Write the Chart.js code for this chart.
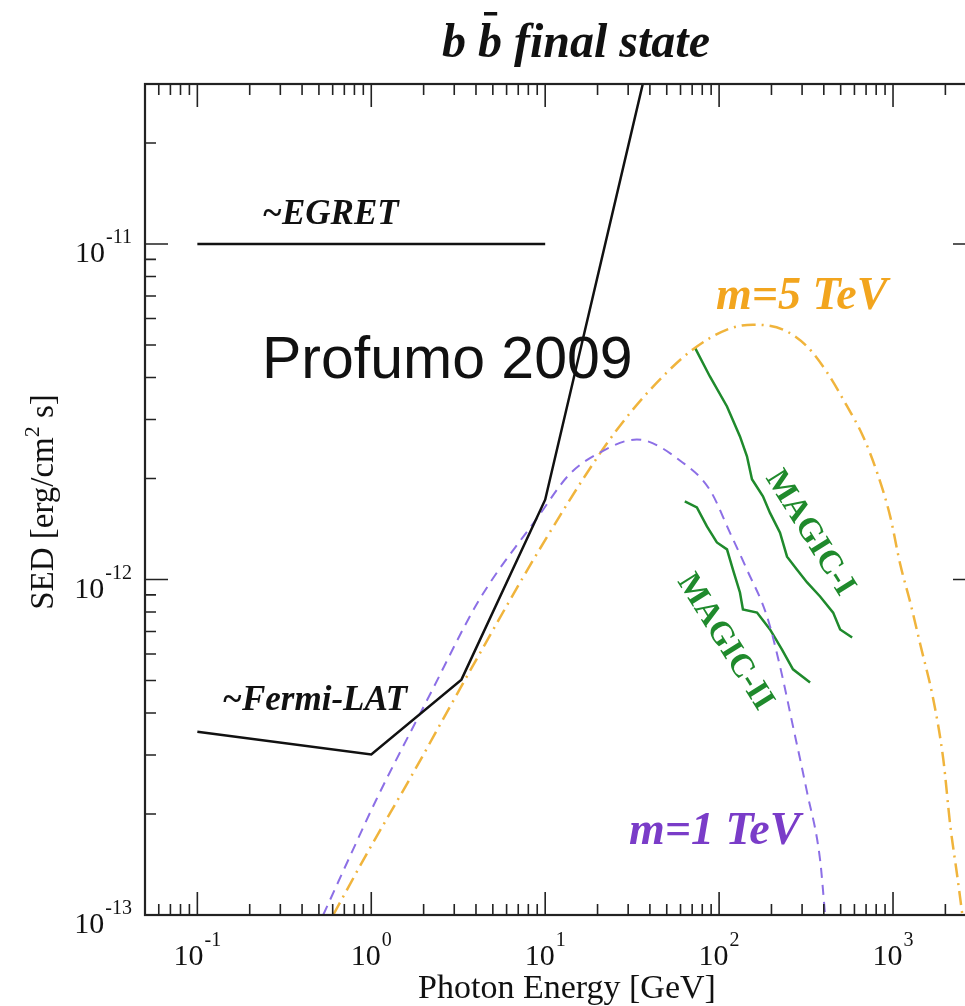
<!DOCTYPE html>
<html lang="en">
<head>
<meta charset="UTF-8">
<title>b b final state</title>
<script src="https://cdn.jsdelivr.net/npm/chart.js"></script>
<style>
  html, body { margin: 0; padding: 0; overflow: hidden; background: #fff; }
  canvas { display: block; }
</style>
</head>
<body>
<canvas id="sedChart" width="990" height="1006"></canvas>
<script>
// photon energy [GeV] and SED [erg/cm^2 s]
const egretE = [0.1, 10];
const egretSED = [1e-11, 1e-11];

const fermiE = [0.1, 1, 3.3, 10, 36.4];
const fermiSED = [3.52e-13, 3.01e-13, 5.03e-13, 1.73e-12, 3e-11];

const m1E = [0.529, 0.747, 1.07, 2.16, 4.19, 9.28, 13.8, 20.6, 33.6, 61.9, 88.5, 115.4, 144.6, 188.5, 224, 266, 320.6, 380.8, 407];
const m1SED = [1e-13, 1.48e-13, 2.21e-13, 4.51e-13, 8.72e-13, 1.56e-12, 2.06e-12, 2.39e-12, 2.615e-12, 2.23e-12, 1.85e-12, 1.38e-12, 1.07e-12, 7.77e-13, 5.51e-13, 3.65e-13, 2.32e-13, 1.46e-13, 1e-13];

const m5E = [0.604, 0.961, 1.655, 3.82, 9.28, 21.4, 31.9, 50, 70.6, 111, 156.6, 233, 320.6, 418, 545, 673, 811, 964, 1100, 1257, 1435, 1705, 1946, 2136, 2344, 2505];
const m5SED = [1e-13, 1.55e-13, 2.53e-13, 5.51e-13, 1.23e-12, 2.44e-12, 3.21e-12, 4.14e-12, 4.85e-12, 5.56e-12, 5.75e-12, 5.56e-12, 4.95e-12, 4.14e-12, 3.28e-12, 2.67e-12, 2.08e-12, 1.54e-12, 1.11e-12, 8.54e-13, 6.4e-13, 4.39e-13, 2.91e-13, 1.84e-13, 1.3e-13, 1e-13];

const magic1E = [72.6, 88.5, 111, 131.8, 144.6, 154.5, 178.7, 196.2, 224, 245.8, 280.7, 320.6, 380.8, 452.6, 496.6, 582];
const magic1SED = [4.91e-12, 4.03e-12, 3.28e-12, 2.67e-12, 2.33e-12, 1.99e-12, 1.77e-12, 1.58e-12, 1.38e-12, 1.17e-12, 1.07e-12, 9.8e-13, 8.9e-13, 7.97e-13, 7.1e-13, 6.72e-13];

const magic2E = [63.5, 74.5, 85.1, 97.1, 111, 120.1, 131.8, 137.1, 165.2, 196.2, 230, 266, 333.5];
const magic2SED = [1.71e-12, 1.64e-12, 1.44e-12, 1.29e-12, 1.23e-12, 1.07e-12, 9.15e-13, 8.14e-13, 7.97e-13, 7.1e-13, 6.18e-13, 5.4e-13, 4.93e-13];

const xTickExp = [-1, 0, 1, 2, 3];
const yTickExp = [-13, -12, -11];

const pts = (xs, ys) => xs.map((x, i) => ({ x: x, y: ys[i] }));

const serif = '"Liberation Serif", "Times New Roman", serif';

function powerLabel(ctx, exp, x, y, align) {
    ctx.font = '30px ' + serif;
    const wBase = ctx.measureText('10').width;
    ctx.font = '20px ' + serif;
    const sup = String(exp);
    const wSup = ctx.measureText(sup).width;
    const w = wBase + wSup + 1;
    const left = align === 'right' ? x - w : x - w / 2;
    ctx.textAlign = 'left';
    ctx.font = '30px ' + serif;
    ctx.fillText('10', left, y);
    ctx.font = '20px ' + serif;
    ctx.fillText(sup, left + wBase + 1, y - 19);
}

const decorations = {
    id: 'decorations',
    afterDraw(chart) {
        const { ctx, chartArea: a, scales: { x, y } } = chart;
        ctx.save();
        ctx.fillStyle = '#111';
        ctx.textBaseline = 'alphabetic';

        // inward ticks on all four sides
        ctx.strokeStyle = '#222';
        ctx.lineWidth = 1.6;
        ctx.beginPath();
        for (let e = -2; e <= 3; e++) {
            for (let m = 1; m <= 9; m++) {
                const v = m * Math.pow(10, e);
                if (v < x.min || v > x.max) continue;
                const px = x.getPixelForValue(v);
                const len = m === 1 ? 23 : 11;
                ctx.moveTo(px, a.bottom); ctx.lineTo(px, a.bottom - len);
                ctx.moveTo(px, a.top); ctx.lineTo(px, a.top + len);
            }
        }
        for (let e = -13; e <= -11; e++) {
            for (let m = 1; m <= 9; m++) {
                const v = m * Math.pow(10, e);
                if (v < y.min * 0.999 || v > y.max) continue;
                const py = y.getPixelForValue(v);
                const len = m === 1 ? 23 : 11;
                ctx.moveTo(a.left, py); ctx.lineTo(a.left + len, py);
                ctx.moveTo(a.right, py); ctx.lineTo(a.right - len, py);
            }
        }
        ctx.stroke();
        ctx.lineWidth = 2.2;
        ctx.strokeRect(a.left, a.top, a.right - a.left, a.bottom - a.top);

        // tick labels
        xTickExp.forEach(e => powerLabel(ctx, e, x.getPixelForValue(Math.pow(10, e)), 965, 'center'));
        yTickExp.forEach(e => powerLabel(ctx, e, 132, y.getPixelForValue(Math.pow(10, e)) + 18, 'right'));

        // title with a bar over the second b
        ctx.font = 'italic bold 48px ' + serif;
        ctx.textAlign = 'left';
        ctx.fillText('b b final state', 442, 57);
        const wb = ctx.measureText('b ').width;
        const wb2 = ctx.measureText('b').width;
        ctx.fillRect(442 + wb + wb2 * 0.25, 12, wb2 * 0.55, 3.5);

        // axis titles
        ctx.font = '34px ' + serif;
        ctx.textAlign = 'center';
        ctx.fillText('Photon Energy [GeV]', 567, 998);

        ctx.save();
        ctx.translate(53, 502);
        ctx.rotate(-Math.PI / 2);
        ctx.font = '33px ' + serif;
        const p1 = 'SED [erg/cm', p2 = '2', p3 = ' s]';
        const w1 = ctx.measureText(p1).width, w3 = ctx.measureText(p3).width;
        ctx.font = '22px ' + serif;
        const w2 = ctx.measureText(p2).width;
        let sx = -(w1 + w2 + w3) / 2;
        ctx.textAlign = 'left';
        ctx.font = '33px ' + serif;
        ctx.fillText(p1, sx, 0);
        ctx.font = '22px ' + serif;
        ctx.fillText(p2, sx + w1, -14);
        ctx.font = '33px ' + serif;
        ctx.fillText(p3, sx + w1 + w2, 0);
        ctx.restore();

        // annotations
        ctx.textAlign = 'left';
        ctx.font = 'italic bold 35px ' + serif;
        ctx.fillText('~EGRET', 262, 224);
        ctx.fillText('~Fermi-LAT', 222, 710);

        ctx.font = '59px "Liberation Sans", Arial, sans-serif';
        ctx.fillText('Profumo 2009', 262, 378);

        ctx.font = 'italic bold 46px ' + serif;
        ctx.fillStyle = '#f2a51e';
        ctx.fillText('m=5 TeV', 716, 309);
        ctx.fillStyle = '#7a3cc8';
        ctx.fillText('m=1 TeV', 629, 844);

        ctx.fillStyle = '#1f8a2c';
        ctx.textAlign = 'center';
        ctx.textBaseline = 'middle';
        [['MAGIC-I', 810, 533], ['MAGIC-II', 725, 642]].forEach(([t, cx, cy]) => {
            ctx.save();
            ctx.translate(cx, cy);
            ctx.rotate(58 * Math.PI / 180);
            ctx.font = 'bold 33px ' + serif;
            ctx.fillText(t, 0, 0);
            ctx.restore();
        });
        ctx.restore();
    }
};

const line = { fill: false, pointRadius: 0, borderWidth: 2.5, tension: 0 };
const hiddenAxis = {
    ticks: { display: false },
    grid: { display: false, drawTicks: false },
    border: { display: false }
};

new Chart(document.getElementById('sedChart').getContext('2d'), {
    type: 'line',
    data: {
        datasets: [
            Object.assign({ label: '~EGRET', data: pts(egretE, egretSED), borderColor: '#111' }, line),
            Object.assign({ label: '~Fermi-LAT', data: pts(fermiE, fermiSED), borderColor: '#111' }, line),
            Object.assign({ label: 'm=1 TeV', data: pts(m1E, m1SED), borderColor: '#8c6fe6', borderDash: [10, 7] }, line,
                { borderWidth: 2, cubicInterpolationMode: 'monotone' }),
            Object.assign({ label: 'm=5 TeV', data: pts(m5E, m5SED), borderColor: '#f0b43c', borderDash: [14, 6, 2, 6] }, line,
                { cubicInterpolationMode: 'monotone' }),
            Object.assign({ label: 'MAGIC-I', data: pts(magic1E, magic1SED), borderColor: '#1f8a2c' }, line),
            Object.assign({ label: 'MAGIC-II', data: pts(magic2E, magic2SED), borderColor: '#1f8a2c' }, line)
        ]
    },
    options: {
        responsive: false,
        animation: false,
        devicePixelRatio: 1,
        parsing: false,
        layout: { padding: { left: 145, top: 84, right: 14, bottom: 91 } },
        plugins: {
            legend: { display: false },
            tooltip: { enabled: false },
            title: { display: false }
        },
        scales: {
            x: Object.assign({ type: 'logarithmic', min: 0.05, max: 3000 }, hiddenAxis),
            y: Object.assign({ type: 'logarithmic', min: 1e-13, max: 3e-11 }, hiddenAxis)
        }
    },
    plugins: [decorations]
});
</script>
</body>
</html>
